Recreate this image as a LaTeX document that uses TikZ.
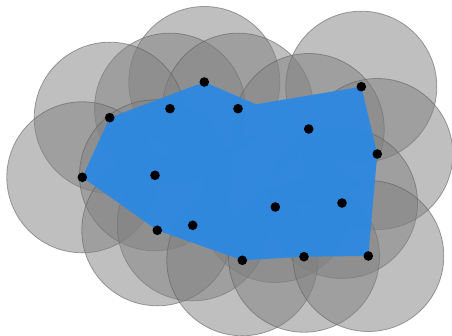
\documentclass[tikz,border=0pt]{standalone}
\definecolor{hullblue}{RGB}{46,137,224}
\definecolor{ringgray}{RGB}{128,128,128}
\definecolor{ringedge}{RGB}{90,90,90}
\tikzset{
  ring/.style={fill=ringgray, fill opacity=0.5, draw=ringedge, draw opacity=0.55, line width=0.8pt},
  hull/.style={fill=hullblue, fill opacity=0.97, draw=none},
  site/.style={circle, fill=black, inner sep=0pt, minimum size=9.6pt}
}
\begin{document}
\begin{tikzpicture}[x=1pt,y=-1pt]
\useasboundingbox (0,0) rectangle (452,336);
% sites
\coordinate (c1) at (204.3,82);
\coordinate (c2) at (170,108.7);
\coordinate (c3) at (238,108.7);
\coordinate (c4) at (109.7,117.7);
\coordinate (c5) at (361.3,86.7);
\coordinate (c6) at (308.7,129);
\coordinate (c7) at (377.3,154);
\coordinate (c8) at (82.3,177.3);
\coordinate (c9) at (155,175.3);
\coordinate (c10) at (275.3,207);
\coordinate (c11) at (342,203);
\coordinate (c12) at (192.7,225.3);
\coordinate (c13) at (157.3,230.3);
\coordinate (c14) at (242.3,260.3);
\coordinate (c15) at (304,256.7);
\coordinate (c16) at (368.3,256);
\coordinate (notch) at (256,104.3);
% disks
\foreach \i in {1,...,16} {
  \draw[ring] (c\i) circle (75.5);
}
% hull
\fill[hull] (c1) -- (notch) -- (c5) -- (c7) -- (c16) -- (c15) -- (c14) -- (c13) -- (c8) -- (c4) -- cycle;
% dots
\foreach \i in {1,...,16} {
  \node[site] (s\i) at (c\i) {};
}
\end{tikzpicture}
\end{document}
